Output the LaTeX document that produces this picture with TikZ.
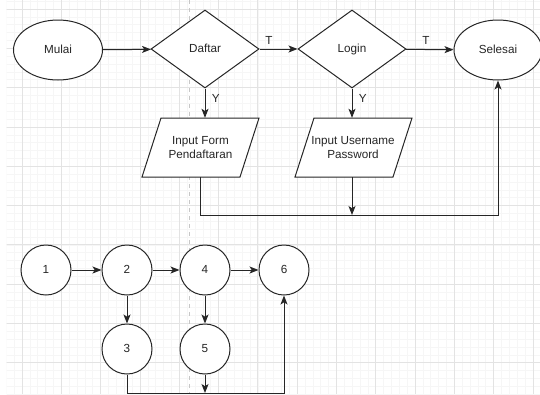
\documentclass[tikz,border=0pt]{standalone}
\usepackage{fontspec}
\setmainfont{Liberation Sans}
\usetikzlibrary{shapes.geometric,arrows.meta}
\begin{document}
\begin{tikzpicture}[x=1pt,y=-1pt,
  every node/.style={font=\fontsize{11.7}{14}\selectfont, text=black!85},
  shp/.style={draw=black!85, line width=1pt, fill=white, inner sep=0pt, align=center},
  oneline/.style={text height=0.8em, text depth=0.107em},
  term/.style={shp, oneline, ellipse, minimum width=89pt, minimum height=60pt},
  decis/.style={shp, oneline, diamond, minimum width=108pt, minimum height=78pt},
  io/.style={inner sep=0pt, align=center, minimum width=98pt, minimum height=59pt},
  iobox/.style={draw=black!85, line width=1pt, fill=white, line join=miter},
  circ/.style={shp, oneline, circle, minimum size=50pt},
  conn/.style={draw=black!85, line width=1pt},
  arr/.style={conn, -{Stealth[length=9pt,width=7pt,inset=2.2pt]}},
  minorg/.style={draw=black!3.5, line width=0.5pt},
  majorg/.style={draw=black!11, line width=0.8pt}
]
\useasboundingbox (0,0) rectangle (540,394);
% grid
\begin{scope}
\clip (6.5,0) rectangle (540,394);
\foreach \i in {-2,...,68} {\pgfmathsetmacro\xx{22+\i*7.86}\draw[minorg] (\xx,0) -- (\xx,394);}
\foreach \i in {-2,...,50} {\pgfmathsetmacro\yy{9+\i*7.86}\draw[minorg] (0,\yy) -- (540,\yy);}
\foreach \i in {0,...,13} {\pgfmathsetmacro\xx{22+\i*39.3}\draw[majorg] (\xx,0) -- (\xx,394);}
\foreach \i in {0,...,9} {\pgfmathsetmacro\yy{9+\i*39.3}\draw[majorg] (0,\yy) -- (540,\yy);}
\draw[draw=black!22, line width=0.7pt, dash pattern=on 4pt off 4pt] (189,0) -- (189,394);
\end{scope}
% flowchart
\node[term] (mulai) at (58,50) {Mulai};
\node[decis] (daftar) at (205,49) {Daftar};
\node[decis] (login) at (352,49) {Login};
\node[term, minimum width=88pt] (selesai) at (498,50) {Selesai};
\draw[iobox] (161,118) -- (259,118) -- (240,177) -- (142,177) -- cycle;
\node[io] (form) at (200.5,147.5) {Input Form\\Pendaftaran};
\draw[iobox] (314,118) -- (412,118) -- (393,177) -- (295,177) -- cycle;
\node[io] (user) at (353,147.5) {Input Username\\Password};
\coordinate (j1) at (352,215);
\draw[arr] (mulai) -- (daftar);
\draw[arr] (daftar) -- node[pos=0.25, above=1pt] {T} (login);
\draw[arr] (login) -- node[pos=0.42, above=1pt] {T} (selesai);
\draw[arr] (daftar.south) -- node[pos=0.35, right=3pt] {Y} (daftar.south |- form.north);
\draw[arr] (login.south) -- node[pos=0.35, right=3pt] {Y} (login.south |- user.north);
\draw[arr] (form.south) -- (form.south |- j1) -| (selesai.south);
\draw[arr] (user.south -| j1) -- (j1);
% graph
\node[circ] (c1) at (46,270) {1};
\node[circ] (c2) at (127,270) {2};
\node[circ] (c4) at (205,270) {4};
\node[circ] (c6) at (284,270) {6};
\node[circ] (c3) at (127,349) {3};
\node[circ] (c5) at (205,349) {5};
\coordinate (b) at (205,393);
\draw[arr] (c1) -- (c2);
\draw[arr] (c2) -- (c4);
\draw[arr] (c4) -- (c6);
\draw[arr] (c2) -- (c3);
\draw[arr] (c4) -- (c5);
\draw[arr] (c3.south) -- (c3.south |- b) -| (c6.south);
\draw[arr] (c5.south) -- (b);
\end{tikzpicture}
\end{document}
